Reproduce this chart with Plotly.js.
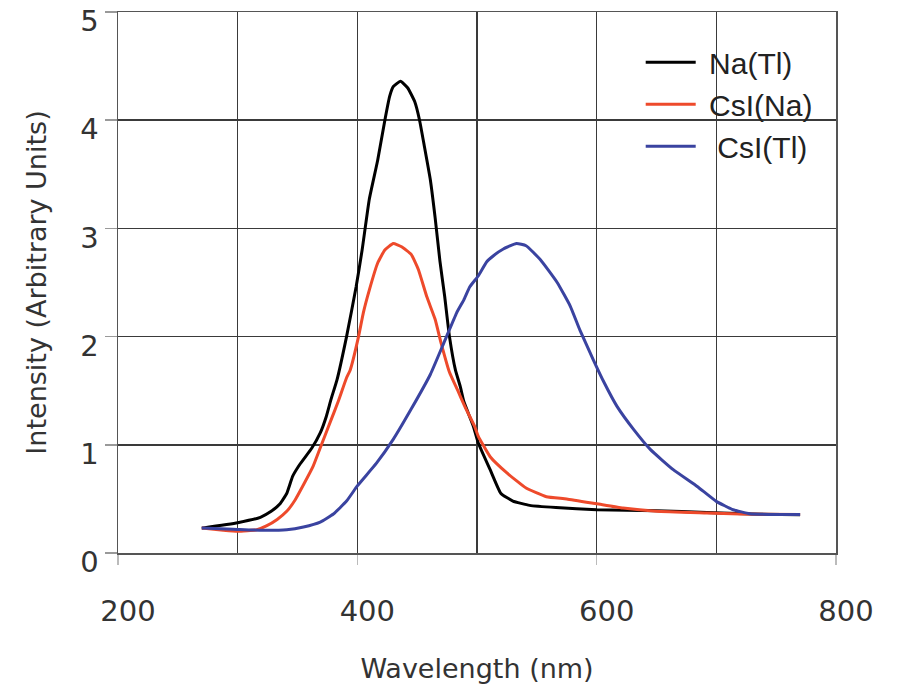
<!DOCTYPE html>
<html>
<head>
<meta charset="utf-8">
<script src="https://cdn.plot.ly/plotly-3.0.1.min.js"></script>
<style>html,body{margin:0;padding:0;background:#fff;}#chart{width:901px;height:693px;}</style>
</head>
<body>
<div id="chart"></div>
<script>
// Na(Tl)
const naTlX = [270,300,319,328,335,341,346,352,362,369,374,378,383,391,399,404,410,417,423,427,430,436,442,448,452,456,461,465,469,473,477,482,486,489,497,501,511,520,530,544,566,600,650,692,730,770];
const naTlY = [0.23,0.28,0.33,0.385,0.45,0.55,0.71,0.82,0.97,1.11,1.26,1.42,1.60,2.0,2.46,2.8,3.27,3.63,4.0,4.22,4.31,4.36,4.30,4.17,4.0,3.76,3.45,3.1,2.7,2.37,2.0,1.69,1.54,1.4,1.17,1.02,0.77,0.55,0.48,0.44,0.42,0.40,0.39,0.375,0.36,0.354];
// CsI(Na)
const csiNaX = [270,288,300,316,324,333,341,348,355,363,370,377,384,391,394,401,405,410,417,423,430,437,445,451,458,465,470,477,484,490,498,501,511,525,541,558,575,600,622,650,692,720,770];
const csiNaY = [0.23,0.21,0.20,0.215,0.25,0.31,0.385,0.49,0.63,0.80,1.0,1.20,1.40,1.62,1.69,2.0,2.22,2.43,2.68,2.80,2.86,2.83,2.76,2.62,2.37,2.16,1.94,1.67,1.50,1.35,1.17,1.08,0.89,0.74,0.60,0.52,0.50,0.455,0.415,0.385,0.37,0.36,0.355];
// CsI(Tl)
const csiTlX = [270,296,320,341,355,369,380,391,400,416,430,445,461,473,483,489,494,501,508,514,522,533,541,553,567,578,586,597,606,617,631,645,664,684,700,714,728,750,770];
const csiTlY = [0.23,0.22,0.21,0.215,0.24,0.285,0.36,0.48,0.62,0.83,1.05,1.33,1.65,1.96,2.22,2.34,2.46,2.56,2.69,2.75,2.81,2.86,2.84,2.71,2.50,2.28,2.06,1.79,1.58,1.355,1.14,0.955,0.77,0.615,0.477,0.40,0.363,0.355,0.355];

const names = ['\u00a0Na(Tl)', '\u00a0CsI(Na)', '\u00a0\u00a0CsI(Tl)'];
const colors = ['#000000', '#ee4a2b', '#3a43a0'];
const yTicks = [0, 1, 2, 3, 4, 5];

const traces = [
  {x: naTlX, y: naTlY},
  {x: csiNaX, y: csiNaY},
  {x: csiTlX, y: csiTlY}
].map((t, i) => ({
  x: t.x, y: t.y, type: 'scatter', mode: 'lines', name: names[i],
  line: {color: colors[i], width: 3, shape: 'spline', smoothing: 0.4}
}));

const tickFont = {family: 'DejaVu Sans, sans-serif', size: 29, color: '#333'};
const titleFont = {family: 'DejaVu Sans, sans-serif', size: 27, color: '#333'};
const layout = {
  width: 901, height: 693,
  margin: {l: 118, r: 64.5, t: 12, b: 139.7},
  paper_bgcolor: '#fff', plot_bgcolor: '#fff',
  showlegend: true,
  legend: {
    x: 0.728, y: 0.955, xanchor: 'left', yanchor: 'top',
    bgcolor: 'rgba(0,0,0,0)', borderwidth: 0,
    font: {family: 'Liberation Sans, Arial, sans-serif', size: 30, color: '#222'},
    itemwidth: 50
  },
  xaxis: {
    range: [200, 800], dtick: 200, tick0: 200,
    showgrid: true, gridcolor: '#3a3a3a', gridwidth: 1.5,
    minor: {dtick: 100, showgrid: true, gridcolor: '#3a3a3a', gridwidth: 1.5, ticks: ''},
    showline: true, mirror: true, linecolor: '#555', linewidth: 1.5,
    ticks: 'outside', ticklen: 10, tickcolor: '#bbb', tickwidth: 1.5,
    ticklabelstandoff: 22, ticklabelshift: 10, ticklabeloverflow: 'allow',
    tickfont: tickFont, zeroline: false,
    title: {text: 'Wavelength (nm)', font: titleFont, standoff: 32}
  },
  yaxis: {
    range: [0, 5], tickmode: 'array', tickvals: yTicks,
    showgrid: true, gridcolor: '#3a3a3a', gridwidth: 1.5,
    showline: true, mirror: true, linecolor: '#555', linewidth: 1.5,
    ticks: 'outside', ticklen: 12, tickcolor: '#999', tickwidth: 1.5,
    ticklabelshift: 9, ticklabeloverflow: 'allow',
    tickfont: tickFont, zeroline: false,
    title: {text: 'Intensity (Arbitrary Units)', font: titleFont, standoff: 26}
  }
};

Plotly.newPlot('chart', traces, layout, {displayModeBar: false, staticPlot: true});
</script>
</body>
</html>
